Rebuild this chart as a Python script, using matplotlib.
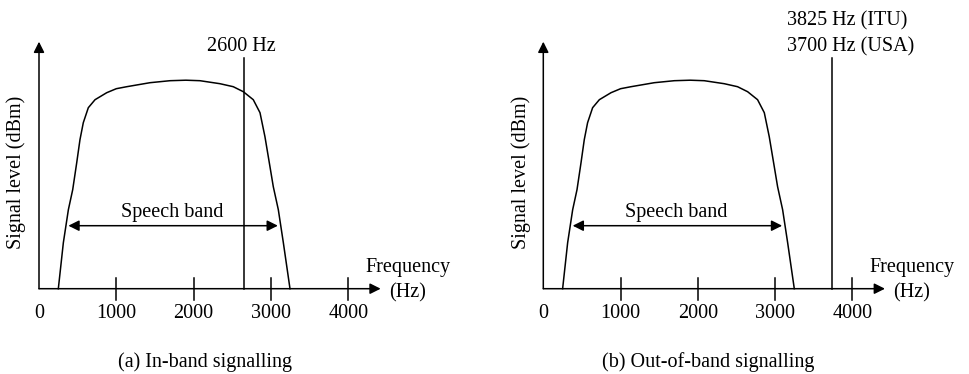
import numpy as np
import matplotlib.pyplot as plt

plt.rcParams['font.family'] = ['Liberation Serif', 'DejaVu Serif']

# speech band spectrum (level in arbitrary units)
freq = [250, 315, 380, 436, 488, 530, 573, 638, 725, 876, 1000, 1135, 1436,
        1695, 1900, 2082, 2341, 2513, 2643, 2772, 2859, 2923, 2988, 3031,
        3096, 3161, 3247]
level = [0, 46, 79, 99, 126, 149, 166, 181, 189, 196, 200, 202, 206,
         208, 208.5, 208, 205, 202, 197, 189, 176, 152, 122, 102,
         79, 46, 0]

tick_vals = [1000, 2000, 3000, 4000]
tick_labels = ["0", "1000", "2000", "3000", "4000"]
band_start, band_end = 380, 3090
in_band_freq = 2650        # where the 2600 Hz line is drawn
out_band_freq = 3740       # where the 3825/3700 Hz line is drawn

fig = plt.figure(figsize=(9.7, 3.74), dpi=100)
FS = 14.5
LW = 1.1


def draw_panel(ax, sig_freq, sig_labels, caption, caption_x):
    ax.axis("off")
    # axes arrows
    ax.annotate("", xy=(4420, 0), xytext=(0, 0),
                arrowprops=dict(arrowstyle="-|>", color="black", lw=LW,
                                mutation_scale=16, shrinkA=0, shrinkB=0))
    ax.annotate("", xy=(0, 247), xytext=(0, 0),
                arrowprops=dict(arrowstyle="-|>", color="black", lw=LW,
                                mutation_scale=16, shrinkA=0, shrinkB=0))
    for t in tick_vals:
        ax.plot([t, t], [-11, 11], color="black", lw=LW)
    for i, lab in enumerate(tick_labels):
        ax.text(i * 1000, -25, lab, ha="center", va="center", fontsize=FS)
    ax.text(4770, 21, "Frequency", ha="center", va="center", fontsize=FS)
    ax.text(4770, -4, "(Hz)", ha="center", va="center", fontsize=FS)
    ax.text(-290, 116, "Signal level (dBm)", rotation=90,
            ha="center", va="center", fontsize=FS)

    # spectrum
    ax.plot(freq, level, color="black", lw=LW)
    ax.annotate("", xy=(band_start, 63), xytext=(band_end, 63),
                arrowprops=dict(arrowstyle="<|-|>", color="black", lw=LW,
                                mutation_scale=16, shrinkA=0, shrinkB=0))
    ax.text(1725, 76, "Speech band", ha="center", va="center", fontsize=FS)

    # signalling tone
    ax.plot([sig_freq, sig_freq], [0, 231], color="black", lw=LW)
    for text, (x, y, ha) in sig_labels:
        ax.text(x, y, text, ha=ha, va="center", fontsize=FS)

    ax.text(caption_x, -73, caption, ha="center", va="center", fontsize=FS)


px_per_hz = 77.3 / 1000
# left panel, origin at pixel x=39, y=288.7 from top
ax1 = fig.add_axes([0, 0, 0.5, 1])
ax1.set_xlim(-39 / px_per_hz, 446 / px_per_hz)
ax1.set_ylim(-85.3, 288.7)
draw_panel(ax1, in_band_freq,
           [("2600 Hz", (in_band_freq - 30, 242, "center"))],
           "(a) In-band signalling", 2150)

# right panel, origin at pixel x=543.3
ax2 = fig.add_axes([0.5, 0, 0.5, 1])
ax2.set_xlim(-58.3 / px_per_hz, 426.7 / px_per_hz)
ax2.set_ylim(-85.3, 288.7)
draw_panel(ax2, out_band_freq,
           [("3825 Hz (ITU)", (3150, 268, "left")),
            ("3700 Hz (USA)", (3150, 242, "left"))],
           "(b) Out-of-band signalling", 2130)

plt.savefig("out.png", dpi=100)
